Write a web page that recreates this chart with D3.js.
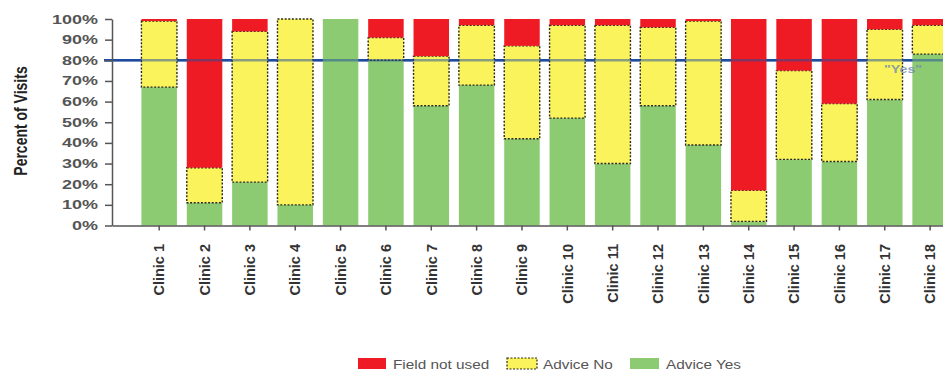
<!DOCTYPE html>
<html>
<head>
<meta charset="utf-8">
<script src="https://cdn.jsdelivr.net/npm/d3@7/dist/d3.min.js"></script>
<style>
  html, body { margin: 0; padding: 0; background: #fff; }
  svg { display: block; }
  text { font-family: "Liberation Sans", Arial, sans-serif; }
</style>
</head>
<body>
<svg id="chart" width="943" height="375"></svg>
<script>
// Share of visits per clinic, split by how the advice field was filled in
const clinics = ["Clinic 1","Clinic 2","Clinic 3","Clinic 4","Clinic 5","Clinic 6","Clinic 7","Clinic 8","Clinic 9",
                 "Clinic 10","Clinic 11","Clinic 12","Clinic 13","Clinic 14","Clinic 15","Clinic 16","Clinic 17","Clinic 18"];
const adviceYes    = [67, 11, 21, 10, 100, 80, 58, 68, 42, 52, 30, 58, 39,  2, 32, 31, 61, 83];
const adviceNo     = [32, 17, 73, 90,   0, 11, 24, 29, 45, 45, 67, 38, 60, 15, 43, 28, 34, 14];
const fieldNotUsed = [ 1, 72,  6,  0,   0,  9, 18,  3, 13,  3,  3,  4,  1, 83, 25, 41,  5,  3];
const yTicks = [0, 10, 20, 30, 40, 50, 60, 70, 80, 90, 100];
const target = 80;
const targetLabel = "\"Yes\"";
const seriesNames = ["Field not used", "Advice No", "Advice Yes"];

const colors = { yes: "#8dcb72", no: "#fbf35c", notUsed: "#ef1b24" };

const rows = clinics.map((c, i) => ({ clinic: c, yes: adviceYes[i], no: adviceNo[i], notUsed: fieldNotUsed[i] }));
const stack = d3.stack().keys(["yes", "no", "notUsed"]);
const layers = stack(rows);

const svg = d3.select("#chart");

const x = d3.scaleBand().domain(clinics).range([112, 977.3]).paddingInner(0.217).paddingOuter(0.649);
const y = d3.scaleLinear().domain([0, 100]).range([225.5, 19]);

// Target line underneath the bars
svg.append("line")
  .attr("x1", 104).attr("x2", 943)
  .attr("y1", y(target)).attr("y2", y(target))
  .attr("stroke", "#1d4c9e").attr("stroke-width", 2.5);

// Stacked bars
layers.forEach(layer => {
  const key = layer.key;
  const g = svg.append("g");
  g.selectAll("rect").data(layer).join("rect")
    .attr("x", d => x(d.data.clinic))
    .attr("width", x.bandwidth())
    .attr("y", d => y(d[1]))
    .attr("height", d => Math.max(0, y(d[0]) - y(d[1])))
    .attr("fill", colors[key])
    .attr("display", d => (d[1] - d[0]) > 0 ? null : "none")
    .attr("stroke", key === "no" ? "#2b2a1a" : "none")
    .attr("stroke-width", key === "no" ? 1.4 : 0)
    .attr("stroke-dasharray", key === "no" ? "2,1.6" : null);
});

// Target line showing through the bars
svg.append("line")
  .attr("x1", 104).attr("x2", 943)
  .attr("y1", y(target)).attr("y2", y(target))
  .attr("stroke", "#1d4c9e").attr("stroke-width", 2.5).attr("opacity", 0.5);

svg.append("text")
  .attr("transform", `translate(903,${y(target) + 13}) scale(1.3,1)`)
  .attr("text-anchor", "middle")
  .attr("font-size", 11).attr("font-weight", "bold")
  .attr("fill", "#6f8cae").attr("opacity", 0.8)
  .text(targetLabel);

// Y axis
const yAxis = svg.append("g").attr("transform", "translate(112,0)")
  .call(d3.axisLeft(y).tickValues(yTicks).tickFormat(d => d + "%").tickSize(7).tickSizeOuter(0));
yAxis.select(".domain").attr("stroke", "#555").attr("stroke-width", 1.5);
yAxis.selectAll(".tick line").attr("stroke", "#555").attr("stroke-width", 1.5);
yAxis.selectAll(".tick text")
  .attr("x", 0)
  .attr("transform", "translate(-14,0) scale(1.44,1)")
  .attr("font-size", 12.5).attr("font-weight", "bold")
  .attr("fill", "#555");

// X axis
const xAxis = svg.append("g").attr("transform", `translate(0,${y(0)})`)
  .call(d3.axisBottom(x).tickSize(5).tickSizeOuter(0));
xAxis.select(".domain").attr("stroke", "#555").attr("stroke-width", 1.5);
xAxis.selectAll(".tick line").attr("stroke", "#555").attr("stroke-width", 1.5);
xAxis.selectAll(".tick text").remove();
xAxis.selectAll(".tick").append("text")
  .attr("transform", `translate(0,${244 - y(0)}) rotate(-90)`)
  .attr("text-anchor", "end")
  .attr("dy", "0.36em")
  .attr("font-size", 14.5).attr("font-weight", "bold")
  .attr("fill", "#333")
  .text(d => d);

// Y axis title
svg.append("text")
  .attr("transform", "translate(20,121) scale(1.35,1) rotate(-90)")
  .attr("text-anchor", "middle")
  .attr("dy", "0.36em")
  .attr("font-size", 14).attr("font-weight", "bold")
  .attr("fill", "#222")
  .text("Percent of Visits");

// Legend
const legend = [
  { name: seriesNames[0], color: colors.notUsed, dashed: false, rx: 358, rw: 28, tx: 393 },
  { name: seriesNames[1], color: colors.no, dashed: true, rx: 507, rw: 30, tx: 543 },
  { name: seriesNames[2], color: colors.yes, dashed: false, rx: 630, rw: 29, tx: 666 }
];
const lg = svg.append("g");
legend.forEach(l => {
  lg.append("rect")
    .attr("x", l.rx).attr("y", 358).attr("width", l.rw).attr("height", 11)
    .attr("fill", l.color)
    .attr("stroke", l.dashed ? "#2b2a1a" : "none")
    .attr("stroke-width", l.dashed ? 1.2 : 0)
    .attr("stroke-dasharray", l.dashed ? "2,1.5" : null);
  lg.append("text")
    .attr("transform", `translate(${l.tx},368.5) scale(1.18,1)`)
    .attr("font-size", 13)
    .attr("fill", "#555")
    .text(l.name);
});
</script>
</body>
</html>
